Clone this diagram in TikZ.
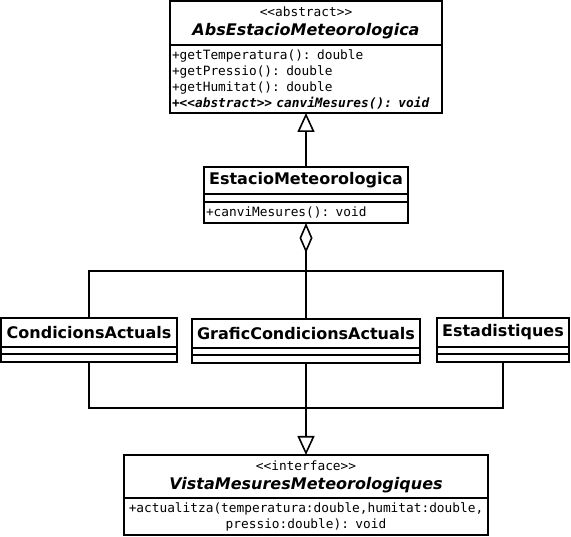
\documentclass[tikz,border=0pt]{standalone}
\usepackage{fontspec}
\setmainfont{DejaVu Sans}
\setmonofont{DejaVu Sans Mono}
\usetikzlibrary{arrows.meta}
\newcommand\umlname{\fontsize{16}{18}\selectfont\bfseries}
\newcommand\umlops{\fontsize{12.8}{16}\selectfont\mdseries\upshape\ttfamily}

\begin{document}
\begin{tikzpicture}[x=1pt, y=-1pt,
    part/.style={draw=black, line width=1.6pt, anchor=north,
        inner xsep=2pt, inner ysep=0pt, outer sep=0pt},
    head/.style={part, align=center, font=\umlname},
    ops/.style={part, align=left, font=\umlops},
    edge/.style={line width=1.6pt, -},
    realize/.style={edge, -{Triangle[open, length=19pt, width=17pt, line width=1.6pt]}},
    aggregate/.style={edge, -{Diamond[open, length=30pt, width=13pt, line width=1.6pt]}}
]
    \useasboundingbox (0,0) rectangle (571,537);
    \node[head, minimum width=272, minimum height=44] (abshead) at (306,1)
        {{\umlops <<abstract>>}\\[1pt]\itshape AbsEstacioMeteorologica};
    \node[ops, minimum width=272, minimum height=68, text width=268] (absops) at (abshead.south)
        {+getTemperatura(): double\\+getPressio(): double\\+getHumitat(): double\\
         \bfseries\itshape +<<abstract>> canviMesures(): void};
    \node[head, minimum width=204, minimum height=27] (esthead) at (306,167) {EstacioMeteorologica};
    \node[part, minimum width=204, minimum height=8] (estattr) at (esthead.south) {};
    \node[ops, minimum width=204, minimum height=21, text width=200] (estops) at (estattr.south)
        {+canviMesures(): void};
    \node[head, minimum width=176, minimum height=29] (condhead) at (89,318) {CondicionsActuals};
    \node[part, minimum width=176, minimum height=7] (condattr) at (condhead.south) {};
    \node[part, minimum width=176, minimum height=8] (condops) at (condattr.south) {};
    \node[head, minimum width=228, minimum height=29] (grafhead) at (306,319) {GraficCondicionsActuals};
    \node[part, minimum width=228, minimum height=7] (grafattr) at (grafhead.south) {};
    \node[part, minimum width=228, minimum height=8] (grafops) at (grafattr.south) {};
    \node[head, minimum width=132, minimum height=29] (stathead) at (503,318) {Estadistiques};
    \node[part, minimum width=132, minimum height=7] (statattr) at (stathead.south) {};
    \node[part, minimum width=132, minimum height=8] (statops) at (statattr.south) {};
    \node[head, minimum width=364, minimum height=43] (vistahead) at (306,455)
        {{\umlops <<interface>>}\\[1pt]\itshape VistaMesuresMeteorologiques};
    \node[ops, align=center, minimum width=364, minimum height=37, inner xsep=1pt, text width=362] (vistaops) at (vistahead.south)
        {\strut+actualitza(temperatura:double,humitat:double,\\pressio:double): void};
    \coordinate (aggjoin) at (306,271);
    \coordinate (viewjoin) at (306,408);
    \draw[realize] (esthead.north) -- (absops.south);
    \draw[aggregate] (grafhead.north) -- (estops.south);
    \draw[edge] (condhead.north) |- (aggjoin);
    \draw[edge] (stathead.north) |- (aggjoin);
    \draw[realize] (grafops.south) -- (vistahead.north);
    \draw[edge] (condops.south) |- (viewjoin);
    \draw[edge] (statops.south) |- (viewjoin);
\end{tikzpicture}
\end{document}
